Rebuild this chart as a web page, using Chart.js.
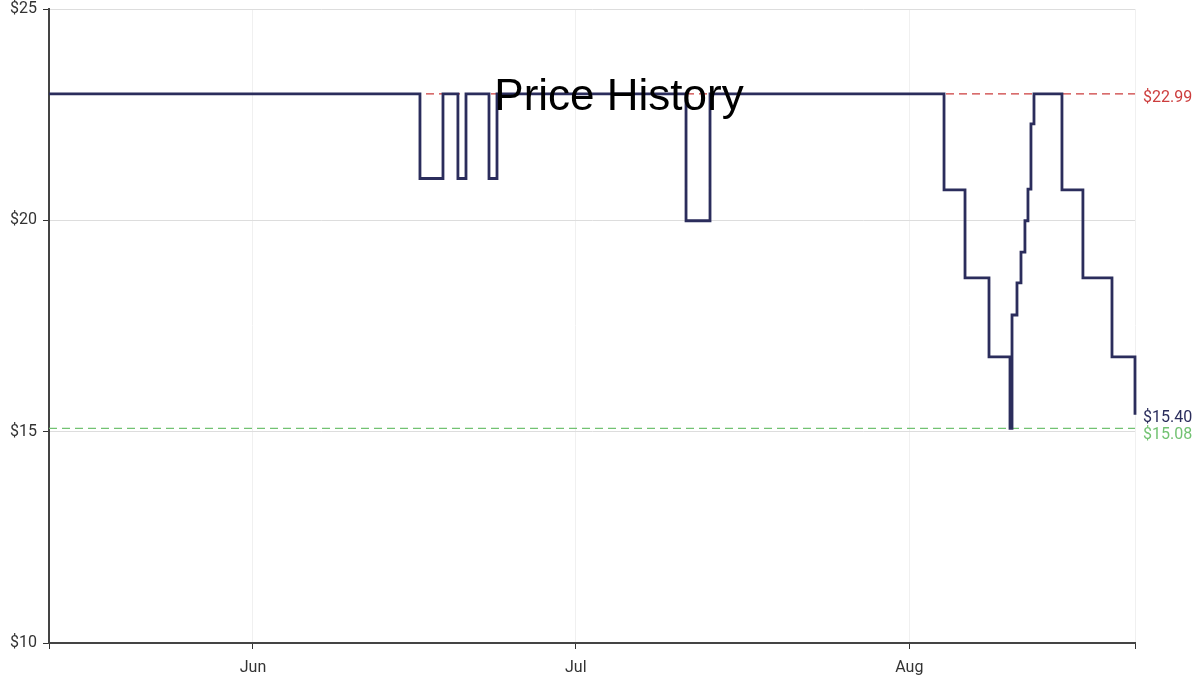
<!DOCTYPE html>
<html>
<head>
<meta charset="utf-8">
<script src="https://cdn.jsdelivr.net/npm/chart.js@4/dist/chart.umd.min.js"></script>
<style>
  html, body { margin: 0; padding: 0; background: #fff; overflow: hidden; height: 681px; }
  .wrap { position: relative; width: 1200px; height: 695px; }
</style>
</head>
<body>
<div class="wrap"><canvas id="priceChart"></canvas></div>
<script>
// price changes (time the price switched, new price)
const changeTimes = [
  '2024-05-13T01:00Z', '2024-06-16T12:30Z', '2024-06-18T15:50Z', '2024-06-20T01:10Z',
  '2024-06-20T19:10Z', '2024-06-22T22:30Z', '2024-06-23T16:20Z', '2024-07-11T06:00Z',
  '2024-07-13T11:30Z', '2024-08-04T05:30Z', '2024-08-06T04:20Z', '2024-08-08T09:50Z',
  '2024-08-10T08:40Z', '2024-08-10T13:10Z', '2024-08-11T00:15Z', '2024-08-11T09:10Z',
  '2024-08-11T18:00Z', '2024-08-12T00:45Z', '2024-08-12T07:25Z', '2024-08-12T14:10Z',
  '2024-08-15T04:35Z', '2024-08-17T03:20Z', '2024-08-19T20:10Z', '2024-08-21T23:30Z'
];
const prices = [
  22.99, 20.99, 22.99, 20.99,
  22.99, 20.99, 22.99, 19.99,
  22.99, 20.72, 18.64, 16.77,
  15.08, 17.76, 18.52, 19.25,
  19.99, 20.74, 22.28, 22.99,
  20.72, 18.64, 16.77, 15.40
];

const highestPrice = 22.99;
const lowestPrice = 15.08;
const currentPrice = 15.40;

const monthTicks = ['2024-06-01T00:00Z', '2024-07-01T00:00Z', '2024-08-01T00:00Z'];
const monthLabels = ['Jun', 'Jul', 'Aug'];
const yTicks = [10, 15, 20, 25];

const startTime = Date.parse(changeTimes[0]);
const endTime = Date.parse(changeTimes[changeTimes.length - 1]);

const NAVY = '#2b2d5c';
const RED = '#cc3d3d';
const GREEN = '#72c272';

const priceData = changeTimes.map((t, i) => ({ x: Date.parse(t), y: prices[i] }));

const sideLabels = {
  id: 'sideLabels',
  afterDraw(chart) {
    const ctx = chart.ctx;
    const y = chart.scales.y;
    const x0 = chart.chartArea.right + 8;
    ctx.save();
    ctx.font = '16px Roboto';
    ctx.textAlign = 'left';
    ctx.textBaseline = 'middle';
    ctx.fillStyle = RED;
    ctx.fillText('$' + highestPrice.toFixed(2), x0, y.getPixelForValue(highestPrice) + 4);
    ctx.fillStyle = NAVY;
    ctx.fillText('$' + currentPrice.toFixed(2), x0, y.getPixelForValue(currentPrice) + 3);
    ctx.fillStyle = GREEN;
    ctx.fillText('$' + lowestPrice.toFixed(2), x0, y.getPixelForValue(lowestPrice) + 7);

    // title sits over the plot
    ctx.font = '44px "Liberation Sans", Arial, sans-serif';
    ctx.textAlign = 'center';
    ctx.textBaseline = 'alphabetic';
    ctx.fillStyle = '#000';
    ctx.fillText('Price History', 619, 110);
    ctx.restore();
  }
};

const ctx = document.getElementById('priceChart');

new Chart(ctx, {
  type: 'line',
  data: {
    datasets: [
      {
        data: priceData,
        stepped: true,
        borderColor: NAVY,
        borderWidth: 2.8,
        pointRadius: 0,
        fill: false,
        clip: 4,
        order: 0
      },
      {
        data: [{ x: startTime, y: highestPrice }, { x: endTime, y: highestPrice }],
        borderColor: RED,
        borderWidth: 1.3,
        borderDash: [8, 5],
        pointRadius: 0,
        order: 1
      },
      {
        data: [{ x: startTime, y: lowestPrice }, { x: endTime, y: lowestPrice }],
        borderColor: GREEN,
        borderWidth: 1.3,
        borderDash: [8, 5],
        pointRadius: 0,
        order: 1
      }
    ]
  },
  options: {
    responsive: true,
    maintainAspectRatio: false,
    animation: false,
    layout: { padding: { top: 9, right: 65, bottom: 0, left: 0 } },
    plugins: { legend: { display: false }, tooltip: { enabled: false } },
    scales: {
      x: {
        type: 'linear',
        min: startTime,
        max: endTime,
        afterBuildTicks(scale) {
          const vals = [startTime].concat(monthTicks.map(t => Date.parse(t)), [endTime]);
          scale.ticks = vals.map(v => ({ value: v }));
        },
        afterFit(scale) {
          scale.height = 52;
          scale.paddingLeft = 0;
          scale.paddingRight = 0;
        },
        ticks: {
          autoSkip: false,
          maxRotation: 0,
          color: '#333',
          font: { family: 'Roboto', size: 16 },
          padding: 9,
          callback(value) {
            const i = monthTicks.findIndex(t => Date.parse(t) === value);
            return i >= 0 ? monthLabels[i] : '';
          }
        },
        grid: { color: '#f0f0f0', tickColor: '#333', tickLength: 6, lineWidth: 1 },
        border: { color: '#444', width: 2 }
      },
      y: {
        min: 10,
        max: 25,
        afterBuildTicks(scale) {
          scale.ticks = yTicks.map(v => ({ value: v }));
        },
        afterFit(scale) {
          scale.width = 49;
          scale.paddingTop = 0;
          scale.paddingBottom = 0;
        },
        ticks: {
          color: '#333',
          font: { family: 'Roboto', size: 16 },
          padding: 6,
          callback: v => '$' + v
        },
        grid: { color: '#dddddd', tickColor: '#333', tickLength: 6 },
        border: { color: '#444', width: 2 }
      }
    }
  },
  plugins: [sideLabels]
});
</script>
</body>
</html>
